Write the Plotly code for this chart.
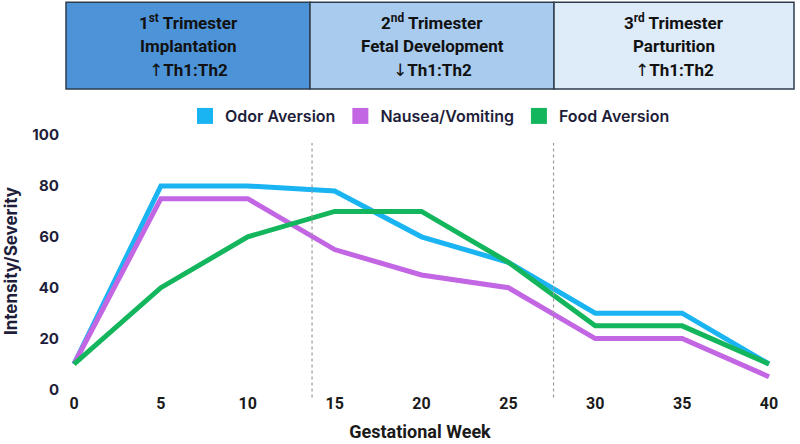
import plotly.graph_objects as go

weeks = [0, 5, 10, 15, 20, 25, 30, 35, 40]
odor_aversion = [10, 80, 80, 78, 60, 50, 30, 30, 10]
nausea_vomiting = [10, 75, 75, 55, 45, 40, 20, 20, 5]
food_aversion = [10, 40, 60, 70, 70, 50, 25, 25, 10]
series_names = ["Odor Aversion", "Nausea/Vomiting", "Food Aversion"]
series_colors = ["#1ab4f2", "#c266e3", "#13b65c"]
trimester_bounds = [13.7, 27.6]
arrow = '<span style="font-family:DejaVu Sans;font-weight:normal">{}</span>'
trimester_lines = [
    ["1<sup>st</sup> Trimester", "Implantation", arrow.format("↑") + "Th1:Th2"],
    ["2<sup>nd</sup> Trimester", "Fetal Development", arrow.format("↓") + "Th1:Th2"],
    ["3<sup>rd</sup> Trimester", "Parturition", arrow.format("↑") + "Th1:Th2"],
]
trimester_fills = ["#4d93d8", "#a8cbee", "#deebf8"]
y_ticks = [0, 20, 40, 60, 80, 100]
x_ticks = [0, 5, 10, 15, 20, 25, 30, 35, 40]

W, H = 800, 444
L, R, T, B = 60, 20, 130, 51.5
pw, ph = W - L - R, H - T - B

def px_x(p):
    return (p - L) / pw

def px_y(p):
    return (H - B - p) / ph

fig = go.Figure()
for name, vals, col in zip(series_names, [odor_aversion, nausea_vomiting, food_aversion], series_colors):
    fig.add_trace(go.Scatter(x=weeks, y=vals, mode="lines", name=name,
                             line=dict(color=col, width=5), showlegend=False))
    fig.add_trace(go.Scatter(x=[None], y=[None], mode="markers", name=name,
                             marker=dict(symbol="square", size=20, color=col)))

for xb in trimester_bounds:
    fig.add_shape(type="line", xref="x", yref="paper", x0=xb, x1=xb,
                  y0=px_y(398), y1=px_y(143),
                  line=dict(color="#9a9a9a", width=1.2, dash="dot"))

# header boxes
edges = [66, 310, 554, 794]
for i in range(3):
    fig.add_shape(type="rect", xref="paper", yref="paper",
                  x0=px_x(edges[i]), x1=px_x(edges[i + 1]), y0=px_y(89), y1=px_y(2),
                  fillcolor=trimester_fills[i], line=dict(color="#2e3d4d", width=1.5), layer="below")
    cx = (edges[i] + edges[i + 1]) / 2
    for j, line in enumerate(trimester_lines[i]):
        fig.add_annotation(xref="paper", yref="paper", x=px_x(cx), y=px_y(22 + 24 * j),
                           text=line, showarrow=False, xanchor="center", yanchor="middle",
                           font=dict(family="Roboto", size=17, color="#111111", weight="bold"))

fig.update_layout(
    width=W, height=H,
    margin=dict(l=L, r=R, t=T, b=B),
    plot_bgcolor="white", paper_bgcolor="white",
    legend=dict(orientation="h", x=px_x(430), xanchor="center", y=px_y(116), yanchor="middle",
                font=dict(family="Inter", size=16, color="#1e1e3a", weight=600),
                itemsizing="trace", tracegroupgap=0, itemwidth=30),
    xaxis=dict(range=[-0.806, 40.633], tickvals=x_ticks, showgrid=False, zeroline=False,
               showline=False, ticks="", automargin=False,
               tickfont=dict(family="Roboto", size=16, color="#1a1a1a", weight="bold"),
               title=dict(text="Gestational Week", standoff=13,
                          font=dict(family="Roboto", size=18, color="#1a1a1a", weight="bold"))),
    yaxis=dict(range=[-1, 102], tickvals=y_ticks, showgrid=False, zeroline=False,
               showline=False, ticks="", automargin=False,
               tickfont=dict(family="Inter", size=15, color="#1e1e3a", weight="bold"),
               title=dict(text="Intensity/Severity", standoff=10,
                          font=dict(family="Inter", size=17, color="#1e1e3a", weight="bold"))),
)

fig.write_html("out.html", config={"displayModeBar": False},
               post_script="document.body.style.margin='0';")
